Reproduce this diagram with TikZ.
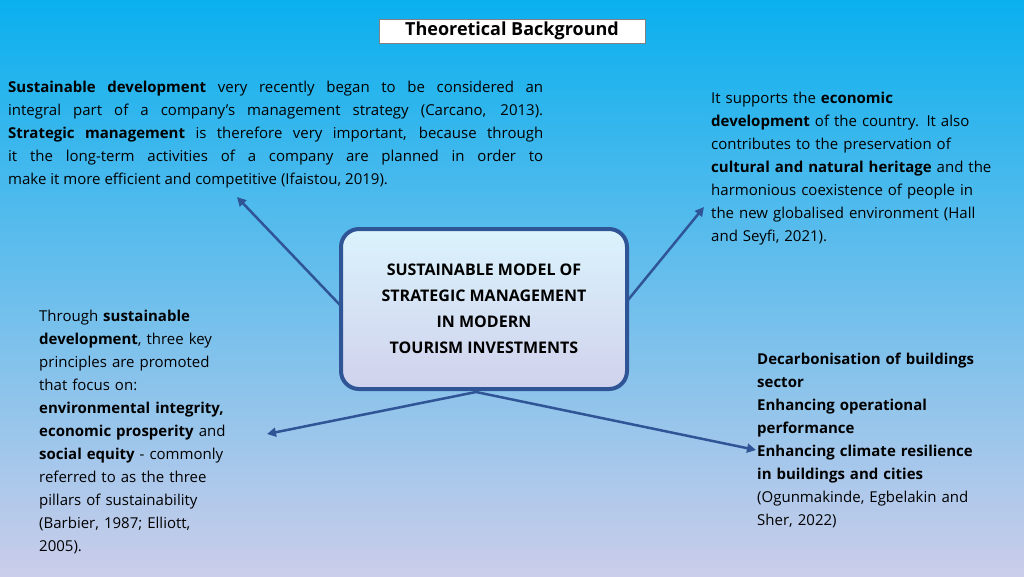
\documentclass[tikz,border=0pt]{standalone}
\usepackage{fontspec}
\setmainfont{Open Sans}
\usetikzlibrary{arrows.meta}
\definecolor{topc}{HTML}{0AB0EE}
\definecolor{botc}{HTML}{CBCDEA}
\definecolor{arr}{HTML}{2F5597}
\tikzset{
 txt/.style={anchor=north west,inner sep=0pt,font=\fontsize{15}{23}\selectfont,align=justify},
 txtl/.style={anchor=north west,inner sep=0pt,font=\fontsize{15}{23}\selectfont,align=left},
 con/.style={draw=arr,line width=2.5pt,-{Triangle[length=9pt,width=9pt]}}
}
\begin{document}
\begin{tikzpicture}[x=1pt,y=-1pt]
\shade[top color=topc,bottom color=botc] (0,0) rectangle (1024,576);
\useasboundingbox (0,0) rectangle (1024,576);
\node[draw=gray,fill=white,line width=1pt,inner sep=3pt,minimum width=266pt,font=\fontsize{18}{24}\selectfont\bfseries] (title) at (512,31) {Theoretical Background};
\node[txt,text width=535pt] (tl) at (8,81) {\textbf{Sustainable development} very recently began to be considered an\linebreak integral part of a company's management strategy (Carcano, 2013).\linebreak \textbf{Strategic management} is therefore very important, because through\linebreak it the long-term activities of a company are planned in order to\linebreak make it more efficient and competitive (Ifaistou, 2019).};
\node[txtl,text width=310pt] (tr) at (711,92) {It supports the \textbf{economic}\\\textbf{development} of the country. It also\\contributes to the preservation of\\\textbf{cultural and natural heritage} and the\\harmonious coexistence of people in\\the new globalised environment (Hall\\and Seyfi, 2021).};
\node[draw=arr,line width=4pt,rounded corners=18pt,top color=white!85!topc,bottom color=botc!90!white,minimum width=286pt,minimum height=160pt,align=center,font=\fontsize{16}{26}\selectfont\bfseries] (c) at (484,309) {SUSTAINABLE MODEL OF\\STRATEGIC MANAGEMENT\\IN MODERN\\TOURISM INVESTMENTS};
\node[txtl,text width=230pt] (bl) at (39,310) {Through \textbf{sustainable}\\\textbf{development}, three key\\principles are promoted\\that focus on:\\\textbf{environmental integrity,}\\\textbf{economic prosperity} and\\\textbf{social equity} - commonly\\referred to as the three\\pillars of sustainability\\(Barbier, 1987; Elliott,\\2005).};
\node[txtl,text width=265pt] (br) at (757,353) {\textbf{Decarbonisation of buildings}\\\textbf{sector}\\\textbf{Enhancing operational}\\\textbf{performance}\\\textbf{Enhancing climate resilience}\\\textbf{in buildings and cities}\\(Ogunmakinde, Egbelakin and\\Sher, 2022)};
\coordinate (c1) at (340,305);
\coordinate (c2) at (628,300);
\coordinate (c3) at (476,392);
\coordinate (e1) at (237,197);
\coordinate (e2) at (704,207);
\coordinate (e3) at (267,434);
\coordinate (e4) at (756,450);
\draw[con] (c1) -- (e1);
\draw[con] (c2) -- (e2);
\draw[con] (c3) -- (e3);
\draw[con] (c3) -- (e4);
\end{tikzpicture}
\end{document}
